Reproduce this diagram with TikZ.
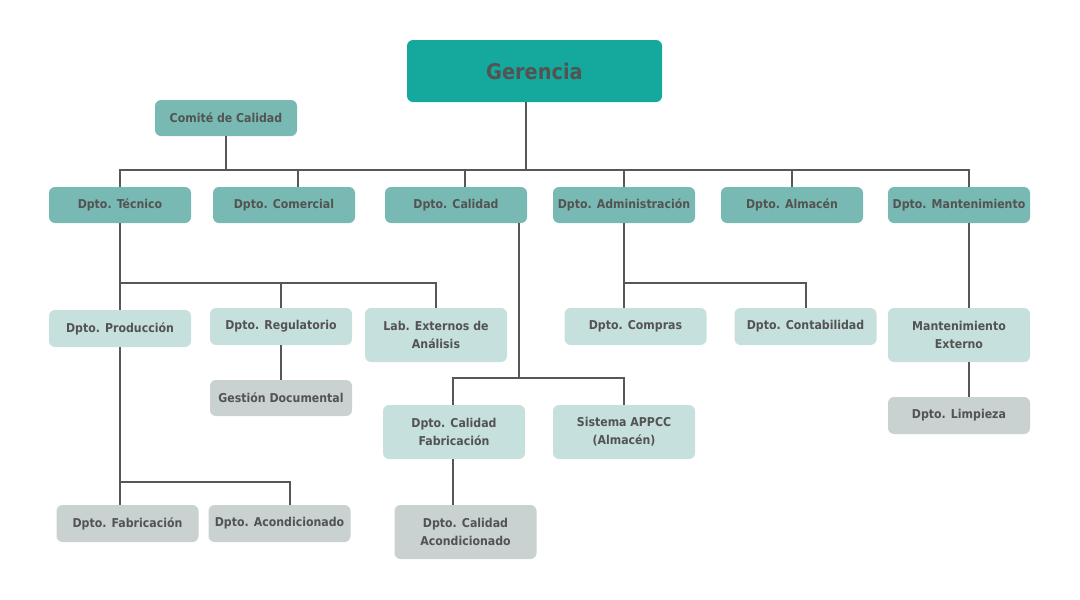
\documentclass[tikz,border=0pt]{standalone}
\usepackage{fontspec}
\setmainfont{DejaVu Sans Condensed}
\usepackage{tikz}
\usetikzlibrary{positioning}

\definecolor{cTop}{HTML}{14A99C}
\definecolor{cDept}{HTML}{78BAB3}
\definecolor{cSub}{HTML}{C6E0DD}
\definecolor{cLeaf}{HTML}{C9D1D1}
\definecolor{cText}{HTML}{535353}
\definecolor{cLine}{HTML}{575757}

\tikzset{
  box/.style = {rectangle, rounded corners=6pt, minimum width=142pt,
    minimum height=36pt, inner sep=2pt, align=center, text=cText,
    font=\fontsize{12.2}{18}\selectfont\bfseries},
  gerbox/.style = {box, fill=cTop, minimum width=255pt, minimum height=62pt,
    font=\fontsize{21.5}{24}\selectfont\bfseries},
  dept/.style = {box, fill=cDept},
  sub/.style = {box, fill=cSub, minimum height=37pt},
  leaf/.style = {box, fill=cLeaf, minimum height=37pt},
  tall/.style = {minimum height=54pt},
  conn/.style = {draw=cLine, line width=2pt}
}

\begin{document}
\begin{tikzpicture} [x=1pt, y=-1pt, on grid]
\useasboundingbox (0,0) rectangle (1080,600);

\node (gerencia) [gerbox] at (534.5,71) {Gerencia};
\node (comite) [dept] at (226,118) {Comité de Calidad};

% departamentos
\node (tecnico) [dept] at (120,205) {Dpto. Técnico};
\node (comercial) [dept, right = 164pt of tecnico] {Dpto. Comercial};
\node (calidad) [dept, right = 172pt of comercial] {Dpto. Calidad};
\node (admin) [dept, right = 168pt of calidad] {Dpto. Administración};
\node (almacen) [dept, right = 168pt of admin] {Dpto. Almacén};
\node (mant) [dept, right = 167pt of almacen] {Dpto. Mantenimiento};

% tecnico
\node (produccion) [sub, below = 123.5pt of tecnico] {Dpto. Producción};
\node (regulatorio) [sub, below right = 121.5pt and 161pt of tecnico] {Dpto. Regulatorio};
\node (lab) [sub, tall, below right = 130pt and 316pt of tecnico] {Lab. Externos de\\Análisis};
\node (gestion) [leaf, minimum height=36pt, below = 71.5pt of regulatorio] {Gestión Documental};
\node (fabricacion) [leaf, below right = 195pt and 7.5pt of produccion] {Dpto. Fabricación};
\node (acond) [leaf, right = 152pt of fabricacion] {Dpto. Acondicionado};

% calidad
\node (calfab) [sub, tall, below left = 227pt and 2pt of calidad] {Dpto. Calidad\\Fabricación};
\node (appcc) [sub, tall, right = 170pt of calfab] {Sistema APPCC\\(Almacén)};
\node (calacond) [leaf, tall, below right = 100pt and 11.5pt of calfab] {Dpto. Calidad\\Acondicionado};

% administracion
\node (compras) [sub, below right = 121.5pt and 11.5pt of admin] {Dpto. Compras};
\node (contab) [sub, below right = 121.5pt and 181.5pt of admin] {Dpto. Contabilidad};

% mantenimiento
\node (mantext) [sub, tall, below = 130pt of mant] {Mantenimiento\\Externo};
\node (limpieza) [leaf, below = 80.5pt of mantext] {Dpto. Limpieza};

% linea principal
\draw [conn] (tecnico.north) -- ++(0,-17) -| ([xshift=10pt]mant.north);
\draw [conn] ([xshift=-8.5pt]gerencia.south) -- ++(0,68);
\draw [conn] (comite.south) -- ++(0,34);
\draw [conn] ([xshift=14pt]comercial.north) -- ++(0,-17);
\draw [conn] ([xshift=9pt]calidad.north) -- ++(0,-17);
\draw [conn] (admin.north) -- ++(0,-17);
\draw [conn] (almacen.north) -- ++(0,-17);

% tecnico
\draw [conn] (tecnico.south) -- (produccion.north);
\draw [conn] (tecnico.south) ++(0,60) -| (lab.north);
\draw [conn] (regulatorio.north) -- ++(0,-25);
\draw [conn] (regulatorio.south) -- (gestion.north);
\draw [conn] (produccion.south) -- ([xshift=-7.5pt]fabricacion.north);
\draw [conn] ([xshift=-7.5pt]fabricacion.north) -- ++(0,-23) -| ([xshift=10.5pt]acond.north);

% calidad
\draw [conn] ([xshift=63pt]calidad.south) -- ++(0,155);
\draw [conn] ([xshift=-1pt]calfab.north) -- ++(0,-27) -| (appcc.north);
\draw [conn] ([xshift=-1pt]calfab.south) -- ([xshift=-12.5pt]calacond.north);

% administracion
\draw [conn] (admin.south) -- ++(0,60) -| (contab.north);
\draw [conn] (admin.south) -- ([xshift=-11.5pt]compras.north);

% mantenimiento
\draw [conn] ([xshift=10pt]mant.south) -- ([xshift=10pt]mantext.north);
\draw [conn] ([xshift=10pt]mantext.south) -- ([xshift=10pt]limpieza.north);
\end{tikzpicture}
\end{document}
